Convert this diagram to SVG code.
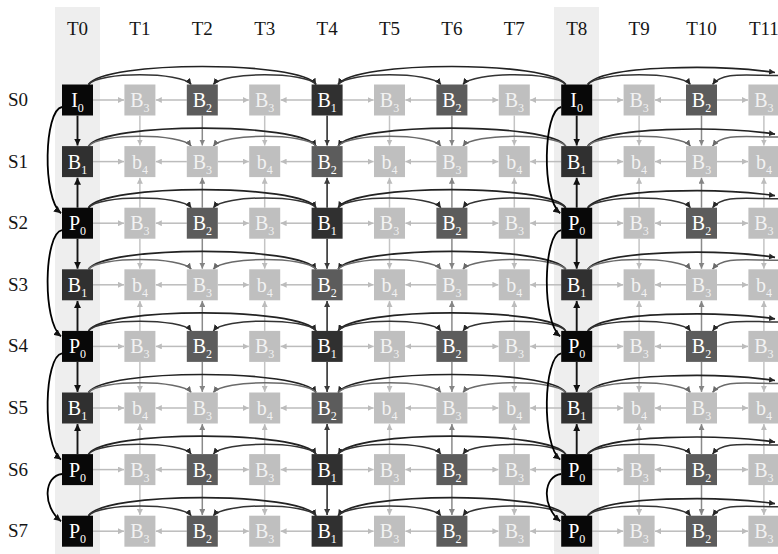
<svg xmlns="http://www.w3.org/2000/svg" width="778" height="554" viewBox="0 0 778 554">
<style>
.bg{fill:#eeeeee}
.lab{font-family:"Liberation Serif","Times New Roman",serif;font-size:19px;fill:#151515;text-anchor:middle}
.k rect{fill:#080808}.d rect{fill:#303030}.m rect{fill:#5c5c5c}.l rect{fill:#bfbfbf}
.nd text{font-family:"Liberation Serif","Times New Roman",serif;font-size:20px;fill:#fff;text-anchor:middle}
.nd tspan{font-size:12px}
.l text{fill:#f2f2f2}
path{fill:none}
.h{stroke:#bcbcbc;stroke-width:1.5;marker-end:url(#mL)}
.cl{stroke:#c4c4c4;stroke-width:1.5;marker-end:url(#mL)}
.cm{stroke:#8a8a8a;stroke-width:1.5;marker-end:url(#mM)}
.cd{stroke:#3c3c3c;stroke-width:1.7;marker-end:url(#mD)}
.ck{stroke:#151515;stroke-width:1.9;marker-end:url(#mK)}
.al{stroke:#222;stroke-width:1.7;marker-end:url(#mA)}
.as{stroke:#333;stroke-width:1.5;marker-end:url(#mA)}
.as2{stroke:#6a6a6a;stroke-width:1.5;marker-end:url(#mA2)}
.lc{stroke:#000;stroke-width:1.8;marker-end:url(#mK)}
</style>
<defs>
<marker id="mL" viewBox="0 0 6 6" refX="6" refY="3" markerWidth="6" markerHeight="6" markerUnits="userSpaceOnUse" orient="auto"><path d="M0,0L6,3L0,6z" style="fill:#bcbcbc"/></marker>
<marker id="mM" viewBox="0 0 6 6" refX="6" refY="3" markerWidth="6" markerHeight="6" markerUnits="userSpaceOnUse" orient="auto"><path d="M0,0L6,3L0,6z" style="fill:#858585"/></marker>
<marker id="mD" viewBox="0 0 6 6" refX="6" refY="3" markerWidth="6" markerHeight="6" markerUnits="userSpaceOnUse" orient="auto"><path d="M0,0L6,3L0,6z" style="fill:#3c3c3c"/></marker>
<marker id="mK" viewBox="0 0 6 6" refX="6" refY="3" markerWidth="7" markerHeight="7" markerUnits="userSpaceOnUse" orient="auto"><path d="M0,0L6,3L0,6z" style="fill:#111"/></marker>
<marker id="mA" viewBox="0 0 6 6" refX="6" refY="3" markerWidth="6" markerHeight="6" markerUnits="userSpaceOnUse" orient="auto"><path d="M0,0L6,3L0,6z" style="fill:#262626"/></marker>
<marker id="mA2" viewBox="0 0 6 6" refX="6" refY="3" markerWidth="6" markerHeight="6" markerUnits="userSpaceOnUse" orient="auto"><path d="M0,0L6,3L0,6z" style="fill:#6a6a6a"/></marker>
<g id="hrow">
<path class="h" d="M93,0H124"/><path class="h" d="M186.8,0H155.8"/><path class="h" d="M217.8,0H248.8"/><path class="h" d="M311.6,0H280.6"/><path class="h" d="M342.6,0H373.6"/><path class="h" d="M436.4,0H405.4"/><path class="h" d="M467.4,0H498.4"/><path class="h" d="M561.2,0H530.2"/><path class="h" d="M592.2,0H623.2"/><path class="h" d="M686,0H655"/><path class="h" d="M717,0H748"/>
</g>
<g id="vd">
<path class="cl" d="M139.9,0V30"/><path class="cm" d="M202.3,0V30"/><path class="cl" d="M264.7,0V30"/><path class="cd" d="M327.1,0V30"/><path class="cl" d="M389.5,0V30"/><path class="cm" d="M451.9,0V30"/><path class="cl" d="M514.3,0V30"/><path class="cl" d="M639.1,0V30"/><path class="cm" d="M701.5,0V30"/><path class="cl" d="M763.9,0V30"/>
</g>
<g id="vu">
<path class="cl" d="M139.9,30.6V0.6"/><path class="cm" d="M202.3,30.6V0.6"/><path class="cl" d="M264.7,30.6V0.6"/><path class="cd" d="M327.1,30.6V0.6"/><path class="cl" d="M389.5,30.6V0.6"/><path class="cm" d="M451.9,30.6V0.6"/><path class="cl" d="M514.3,30.6V0.6"/><path class="cl" d="M639.1,30.6V0.6"/><path class="cm" d="M701.5,30.6V0.6"/><path class="cl" d="M763.9,30.6V0.6"/>
</g>
<g id="vad"><path class="ck" d="M77.5,0V30"/><path class="ck" d="M576.7,0V30"/></g>
<g id="vau"><path class="ck" d="M77.5,30.6V0.6"/><path class="ck" d="M576.7,30.6V0.6"/></g>
<g id="arcL">
<path class="al" d="M88.5,0C103.5,-24 301.1,-24 316.1,0"/>
<path class="al" d="M565.7,0C550.7,-24 353.1,-24 338.1,0"/>
<path class="al" d="M587.7,0C602.7,-20 720,-20 775,-12"/>
</g>
<g id="arcE">
<use href="#arcL"/>
<path class="as" d="M88.5,0C98.5,-13 181.3,-13 191.3,0"/>
<path class="as" d="M316.1,0C306.1,-13 223.3,-13 213.3,0"/>
<path class="as" d="M338.1,0C348.1,-13 430.9,-13 440.9,0"/>
<path class="as" d="M565.7,0C555.7,-13 472.9,-13 462.9,0"/>
<path class="as" d="M587.7,0C597.7,-13 680.5,-13 690.5,0"/>
<path class="as" d="M778,-9C745,-9 722.5,-13 712.5,0"/>
</g>
<g id="arcO">
<use href="#arcL"/>
<path class="as2" d="M88.5,0C98.5,-13 181.3,-13 191.3,0"/>
<path class="as2" d="M316.1,0C306.1,-13 223.3,-13 213.3,0"/>
<path class="as2" d="M338.1,0C348.1,-13 430.9,-13 440.9,0"/>
<path class="as2" d="M565.7,0C555.7,-13 472.9,-13 462.9,0"/>
<path class="as2" d="M587.7,0C597.7,-13 680.5,-13 690.5,0"/>
<path class="as2" d="M778,-9C745,-9 722.5,-13 712.5,0"/>
</g>
<g id="lcv">
<path class="lc" d="M62,107C44,110 42,198.2 61,213.2"/>
<path class="lc" d="M62,230.2C44,233.2 42,321.4 61,336.4"/>
<path class="lc" d="M62,353.4C44,356.4 42,444.6 61,459.6"/>
<path class="lc" d="M62,474C44,476 42,506 61,521.2"/>
</g>
</defs>
<rect class="bg" x="55" y="7" width="45" height="547"/>
<rect class="bg" x="554" y="7" width="45" height="547"/>
<g id="labels">
<text class="lab" x="77.5" y="35">T0</text><text class="lab" x="139.9" y="35">T1</text><text class="lab" x="202.3" y="35">T2</text><text class="lab" x="264.7" y="35">T3</text><text class="lab" x="327.1" y="35">T4</text><text class="lab" x="389.5" y="35">T5</text><text class="lab" x="451.9" y="35">T6</text><text class="lab" x="514.3" y="35">T7</text><text class="lab" x="576.7" y="35">T8</text><text class="lab" x="639.1" y="35">T9</text><text class="lab" x="701.5" y="35">T10</text><text class="lab" x="763.9" y="35">T11</text>
<text class="lab" x="18" y="106">S0</text><text class="lab" x="18" y="167.6">S1</text><text class="lab" x="18" y="229.2">S2</text><text class="lab" x="18" y="290.8">S3</text><text class="lab" x="18" y="352.4">S4</text><text class="lab" x="18" y="414">S5</text><text class="lab" x="18" y="475.6">S6</text><text class="lab" x="18" y="537.2">S7</text>
</g>
<g id="connectors">
<use href="#hrow" transform="translate(0 100)"/><use href="#hrow" transform="translate(0 161.6)"/><use href="#hrow" transform="translate(0 223.2)"/><use href="#hrow" transform="translate(0 284.8)"/><use href="#hrow" transform="translate(0 346.4)"/><use href="#hrow" transform="translate(0 408)"/><use href="#hrow" transform="translate(0 469.6)"/><use href="#hrow" transform="translate(0 531.2)"/>
<use href="#vd" transform="translate(0 115.5)"/><use href="#vad" transform="translate(0 115.5)"/>
<use href="#vu" transform="translate(0 177.1)"/><use href="#vau" transform="translate(0 177.1)"/>
<use href="#vd" transform="translate(0 238.7)"/><use href="#vad" transform="translate(0 238.7)"/>
<use href="#vu" transform="translate(0 300.3)"/><use href="#vau" transform="translate(0 300.3)"/>
<use href="#vd" transform="translate(0 361.9)"/><use href="#vad" transform="translate(0 361.9)"/>
<use href="#vu" transform="translate(0 423.5)"/><use href="#vau" transform="translate(0 423.5)"/>
<use href="#vd" transform="translate(0 485.1)"/>
<use href="#arcE" transform="translate(0 84.5)"/><use href="#arcO" transform="translate(0 146.1)"/><use href="#arcE" transform="translate(0 207.7)"/><use href="#arcO" transform="translate(0 269.3)"/><use href="#arcE" transform="translate(0 330.9)"/><use href="#arcO" transform="translate(0 392.5)"/><use href="#arcE" transform="translate(0 454.1)"/><use href="#arcE" transform="translate(0 515.7)"/>
<use href="#lcv"/><use href="#lcv" transform="translate(499.2 0)"/>
</g>
<g id="s0t0" class="nd k" transform="translate(62 84.5)"><rect width="31" height="31"/><text x="15.5" y="22.5">I<tspan dy="5">0</tspan></text></g>
<g id="s0t1" class="nd l" transform="translate(124.4 84.5)"><rect width="31" height="31"/><text x="15.5" y="22.5">B<tspan dy="5">3</tspan></text></g>
<g id="s0t2" class="nd m" transform="translate(186.8 84.5)"><rect width="31" height="31"/><text x="15.5" y="22.5">B<tspan dy="5">2</tspan></text></g>
<g id="s0t3" class="nd l" transform="translate(249.2 84.5)"><rect width="31" height="31"/><text x="15.5" y="22.5">B<tspan dy="5">3</tspan></text></g>
<g id="s0t4" class="nd d" transform="translate(311.6 84.5)"><rect width="31" height="31"/><text x="15.5" y="22.5">B<tspan dy="5">1</tspan></text></g>
<g id="s0t5" class="nd l" transform="translate(374 84.5)"><rect width="31" height="31"/><text x="15.5" y="22.5">B<tspan dy="5">3</tspan></text></g>
<g id="s0t6" class="nd m" transform="translate(436.4 84.5)"><rect width="31" height="31"/><text x="15.5" y="22.5">B<tspan dy="5">2</tspan></text></g>
<g id="s0t7" class="nd l" transform="translate(498.8 84.5)"><rect width="31" height="31"/><text x="15.5" y="22.5">B<tspan dy="5">3</tspan></text></g>
<g id="s0t8" class="nd k" transform="translate(561.2 84.5)"><rect width="31" height="31"/><text x="15.5" y="22.5">I<tspan dy="5">0</tspan></text></g>
<g id="s0t9" class="nd l" transform="translate(623.6 84.5)"><rect width="31" height="31"/><text x="15.5" y="22.5">B<tspan dy="5">3</tspan></text></g>
<g id="s0t10" class="nd m" transform="translate(686 84.5)"><rect width="31" height="31"/><text x="15.5" y="22.5">B<tspan dy="5">2</tspan></text></g>
<g id="s0t11" class="nd l" transform="translate(748.4 84.5)"><rect width="31" height="31"/><text x="15.5" y="22.5">B<tspan dy="5">3</tspan></text></g>
<g id="s1t0" class="nd d" transform="translate(62 146.1)"><rect width="31" height="31"/><text x="15.5" y="22.5">B<tspan dy="5">1</tspan></text></g>
<g id="s1t1" class="nd l" transform="translate(124.4 146.1)"><rect width="31" height="31"/><text x="15.5" y="22.5">b<tspan dy="5">4</tspan></text></g>
<g id="s1t2" class="nd l" transform="translate(186.8 146.1)"><rect width="31" height="31"/><text x="15.5" y="22.5">B<tspan dy="5">3</tspan></text></g>
<g id="s1t3" class="nd l" transform="translate(249.2 146.1)"><rect width="31" height="31"/><text x="15.5" y="22.5">b<tspan dy="5">4</tspan></text></g>
<g id="s1t4" class="nd m" transform="translate(311.6 146.1)"><rect width="31" height="31"/><text x="15.5" y="22.5">B<tspan dy="5">2</tspan></text></g>
<g id="s1t5" class="nd l" transform="translate(374 146.1)"><rect width="31" height="31"/><text x="15.5" y="22.5">b<tspan dy="5">4</tspan></text></g>
<g id="s1t6" class="nd l" transform="translate(436.4 146.1)"><rect width="31" height="31"/><text x="15.5" y="22.5">B<tspan dy="5">3</tspan></text></g>
<g id="s1t7" class="nd l" transform="translate(498.8 146.1)"><rect width="31" height="31"/><text x="15.5" y="22.5">b<tspan dy="5">4</tspan></text></g>
<g id="s1t8" class="nd d" transform="translate(561.2 146.1)"><rect width="31" height="31"/><text x="15.5" y="22.5">B<tspan dy="5">1</tspan></text></g>
<g id="s1t9" class="nd l" transform="translate(623.6 146.1)"><rect width="31" height="31"/><text x="15.5" y="22.5">b<tspan dy="5">4</tspan></text></g>
<g id="s1t10" class="nd l" transform="translate(686 146.1)"><rect width="31" height="31"/><text x="15.5" y="22.5">B<tspan dy="5">3</tspan></text></g>
<g id="s1t11" class="nd l" transform="translate(748.4 146.1)"><rect width="31" height="31"/><text x="15.5" y="22.5">b<tspan dy="5">4</tspan></text></g>
<g id="s2t0" class="nd k" transform="translate(62 207.7)"><rect width="31" height="31"/><text x="15.5" y="22.5">P<tspan dy="5">0</tspan></text></g>
<g id="s2t1" class="nd l" transform="translate(124.4 207.7)"><rect width="31" height="31"/><text x="15.5" y="22.5">B<tspan dy="5">3</tspan></text></g>
<g id="s2t2" class="nd m" transform="translate(186.8 207.7)"><rect width="31" height="31"/><text x="15.5" y="22.5">B<tspan dy="5">2</tspan></text></g>
<g id="s2t3" class="nd l" transform="translate(249.2 207.7)"><rect width="31" height="31"/><text x="15.5" y="22.5">B<tspan dy="5">3</tspan></text></g>
<g id="s2t4" class="nd d" transform="translate(311.6 207.7)"><rect width="31" height="31"/><text x="15.5" y="22.5">B<tspan dy="5">1</tspan></text></g>
<g id="s2t5" class="nd l" transform="translate(374 207.7)"><rect width="31" height="31"/><text x="15.5" y="22.5">B<tspan dy="5">3</tspan></text></g>
<g id="s2t6" class="nd m" transform="translate(436.4 207.7)"><rect width="31" height="31"/><text x="15.5" y="22.5">B<tspan dy="5">2</tspan></text></g>
<g id="s2t7" class="nd l" transform="translate(498.8 207.7)"><rect width="31" height="31"/><text x="15.5" y="22.5">B<tspan dy="5">3</tspan></text></g>
<g id="s2t8" class="nd k" transform="translate(561.2 207.7)"><rect width="31" height="31"/><text x="15.5" y="22.5">P<tspan dy="5">0</tspan></text></g>
<g id="s2t9" class="nd l" transform="translate(623.6 207.7)"><rect width="31" height="31"/><text x="15.5" y="22.5">B<tspan dy="5">3</tspan></text></g>
<g id="s2t10" class="nd m" transform="translate(686 207.7)"><rect width="31" height="31"/><text x="15.5" y="22.5">B<tspan dy="5">2</tspan></text></g>
<g id="s2t11" class="nd l" transform="translate(748.4 207.7)"><rect width="31" height="31"/><text x="15.5" y="22.5">B<tspan dy="5">3</tspan></text></g>
<g id="s3t0" class="nd d" transform="translate(62 269.3)"><rect width="31" height="31"/><text x="15.5" y="22.5">B<tspan dy="5">1</tspan></text></g>
<g id="s3t1" class="nd l" transform="translate(124.4 269.3)"><rect width="31" height="31"/><text x="15.5" y="22.5">b<tspan dy="5">4</tspan></text></g>
<g id="s3t2" class="nd l" transform="translate(186.8 269.3)"><rect width="31" height="31"/><text x="15.5" y="22.5">B<tspan dy="5">3</tspan></text></g>
<g id="s3t3" class="nd l" transform="translate(249.2 269.3)"><rect width="31" height="31"/><text x="15.5" y="22.5">b<tspan dy="5">4</tspan></text></g>
<g id="s3t4" class="nd m" transform="translate(311.6 269.3)"><rect width="31" height="31"/><text x="15.5" y="22.5">B<tspan dy="5">2</tspan></text></g>
<g id="s3t5" class="nd l" transform="translate(374 269.3)"><rect width="31" height="31"/><text x="15.5" y="22.5">b<tspan dy="5">4</tspan></text></g>
<g id="s3t6" class="nd l" transform="translate(436.4 269.3)"><rect width="31" height="31"/><text x="15.5" y="22.5">B<tspan dy="5">3</tspan></text></g>
<g id="s3t7" class="nd l" transform="translate(498.8 269.3)"><rect width="31" height="31"/><text x="15.5" y="22.5">b<tspan dy="5">4</tspan></text></g>
<g id="s3t8" class="nd d" transform="translate(561.2 269.3)"><rect width="31" height="31"/><text x="15.5" y="22.5">B<tspan dy="5">1</tspan></text></g>
<g id="s3t9" class="nd l" transform="translate(623.6 269.3)"><rect width="31" height="31"/><text x="15.5" y="22.5">b<tspan dy="5">4</tspan></text></g>
<g id="s3t10" class="nd l" transform="translate(686 269.3)"><rect width="31" height="31"/><text x="15.5" y="22.5">B<tspan dy="5">3</tspan></text></g>
<g id="s3t11" class="nd l" transform="translate(748.4 269.3)"><rect width="31" height="31"/><text x="15.5" y="22.5">b<tspan dy="5">4</tspan></text></g>
<g id="s4t0" class="nd k" transform="translate(62 330.9)"><rect width="31" height="31"/><text x="15.5" y="22.5">P<tspan dy="5">0</tspan></text></g>
<g id="s4t1" class="nd l" transform="translate(124.4 330.9)"><rect width="31" height="31"/><text x="15.5" y="22.5">B<tspan dy="5">3</tspan></text></g>
<g id="s4t2" class="nd m" transform="translate(186.8 330.9)"><rect width="31" height="31"/><text x="15.5" y="22.5">B<tspan dy="5">2</tspan></text></g>
<g id="s4t3" class="nd l" transform="translate(249.2 330.9)"><rect width="31" height="31"/><text x="15.5" y="22.5">B<tspan dy="5">3</tspan></text></g>
<g id="s4t4" class="nd d" transform="translate(311.6 330.9)"><rect width="31" height="31"/><text x="15.5" y="22.5">B<tspan dy="5">1</tspan></text></g>
<g id="s4t5" class="nd l" transform="translate(374 330.9)"><rect width="31" height="31"/><text x="15.5" y="22.5">B<tspan dy="5">3</tspan></text></g>
<g id="s4t6" class="nd m" transform="translate(436.4 330.9)"><rect width="31" height="31"/><text x="15.5" y="22.5">B<tspan dy="5">2</tspan></text></g>
<g id="s4t7" class="nd l" transform="translate(498.8 330.9)"><rect width="31" height="31"/><text x="15.5" y="22.5">B<tspan dy="5">3</tspan></text></g>
<g id="s4t8" class="nd k" transform="translate(561.2 330.9)"><rect width="31" height="31"/><text x="15.5" y="22.5">P<tspan dy="5">0</tspan></text></g>
<g id="s4t9" class="nd l" transform="translate(623.6 330.9)"><rect width="31" height="31"/><text x="15.5" y="22.5">B<tspan dy="5">3</tspan></text></g>
<g id="s4t10" class="nd m" transform="translate(686 330.9)"><rect width="31" height="31"/><text x="15.5" y="22.5">B<tspan dy="5">2</tspan></text></g>
<g id="s4t11" class="nd l" transform="translate(748.4 330.9)"><rect width="31" height="31"/><text x="15.5" y="22.5">B<tspan dy="5">3</tspan></text></g>
<g id="s5t0" class="nd d" transform="translate(62 392.5)"><rect width="31" height="31"/><text x="15.5" y="22.5">B<tspan dy="5">1</tspan></text></g>
<g id="s5t1" class="nd l" transform="translate(124.4 392.5)"><rect width="31" height="31"/><text x="15.5" y="22.5">b<tspan dy="5">4</tspan></text></g>
<g id="s5t2" class="nd l" transform="translate(186.8 392.5)"><rect width="31" height="31"/><text x="15.5" y="22.5">B<tspan dy="5">3</tspan></text></g>
<g id="s5t3" class="nd l" transform="translate(249.2 392.5)"><rect width="31" height="31"/><text x="15.5" y="22.5">b<tspan dy="5">4</tspan></text></g>
<g id="s5t4" class="nd m" transform="translate(311.6 392.5)"><rect width="31" height="31"/><text x="15.5" y="22.5">B<tspan dy="5">2</tspan></text></g>
<g id="s5t5" class="nd l" transform="translate(374 392.5)"><rect width="31" height="31"/><text x="15.5" y="22.5">b<tspan dy="5">4</tspan></text></g>
<g id="s5t6" class="nd l" transform="translate(436.4 392.5)"><rect width="31" height="31"/><text x="15.5" y="22.5">B<tspan dy="5">3</tspan></text></g>
<g id="s5t7" class="nd l" transform="translate(498.8 392.5)"><rect width="31" height="31"/><text x="15.5" y="22.5">b<tspan dy="5">4</tspan></text></g>
<g id="s5t8" class="nd d" transform="translate(561.2 392.5)"><rect width="31" height="31"/><text x="15.5" y="22.5">B<tspan dy="5">1</tspan></text></g>
<g id="s5t9" class="nd l" transform="translate(623.6 392.5)"><rect width="31" height="31"/><text x="15.5" y="22.5">b<tspan dy="5">4</tspan></text></g>
<g id="s5t10" class="nd l" transform="translate(686 392.5)"><rect width="31" height="31"/><text x="15.5" y="22.5">B<tspan dy="5">3</tspan></text></g>
<g id="s5t11" class="nd l" transform="translate(748.4 392.5)"><rect width="31" height="31"/><text x="15.5" y="22.5">b<tspan dy="5">4</tspan></text></g>
<g id="s6t0" class="nd k" transform="translate(62 454.1)"><rect width="31" height="31"/><text x="15.5" y="22.5">P<tspan dy="5">0</tspan></text></g>
<g id="s6t1" class="nd l" transform="translate(124.4 454.1)"><rect width="31" height="31"/><text x="15.5" y="22.5">B<tspan dy="5">3</tspan></text></g>
<g id="s6t2" class="nd m" transform="translate(186.8 454.1)"><rect width="31" height="31"/><text x="15.5" y="22.5">B<tspan dy="5">2</tspan></text></g>
<g id="s6t3" class="nd l" transform="translate(249.2 454.1)"><rect width="31" height="31"/><text x="15.5" y="22.5">B<tspan dy="5">3</tspan></text></g>
<g id="s6t4" class="nd d" transform="translate(311.6 454.1)"><rect width="31" height="31"/><text x="15.5" y="22.5">B<tspan dy="5">1</tspan></text></g>
<g id="s6t5" class="nd l" transform="translate(374 454.1)"><rect width="31" height="31"/><text x="15.5" y="22.5">B<tspan dy="5">3</tspan></text></g>
<g id="s6t6" class="nd m" transform="translate(436.4 454.1)"><rect width="31" height="31"/><text x="15.5" y="22.5">B<tspan dy="5">2</tspan></text></g>
<g id="s6t7" class="nd l" transform="translate(498.8 454.1)"><rect width="31" height="31"/><text x="15.5" y="22.5">B<tspan dy="5">3</tspan></text></g>
<g id="s6t8" class="nd k" transform="translate(561.2 454.1)"><rect width="31" height="31"/><text x="15.5" y="22.5">P<tspan dy="5">0</tspan></text></g>
<g id="s6t9" class="nd l" transform="translate(623.6 454.1)"><rect width="31" height="31"/><text x="15.5" y="22.5">B<tspan dy="5">3</tspan></text></g>
<g id="s6t10" class="nd m" transform="translate(686 454.1)"><rect width="31" height="31"/><text x="15.5" y="22.5">B<tspan dy="5">2</tspan></text></g>
<g id="s6t11" class="nd l" transform="translate(748.4 454.1)"><rect width="31" height="31"/><text x="15.5" y="22.5">B<tspan dy="5">3</tspan></text></g>
<g id="s7t0" class="nd k" transform="translate(62 515.7)"><rect width="31" height="31"/><text x="15.5" y="22.5">P<tspan dy="5">0</tspan></text></g>
<g id="s7t1" class="nd l" transform="translate(124.4 515.7)"><rect width="31" height="31"/><text x="15.5" y="22.5">B<tspan dy="5">3</tspan></text></g>
<g id="s7t2" class="nd m" transform="translate(186.8 515.7)"><rect width="31" height="31"/><text x="15.5" y="22.5">B<tspan dy="5">2</tspan></text></g>
<g id="s7t3" class="nd l" transform="translate(249.2 515.7)"><rect width="31" height="31"/><text x="15.5" y="22.5">B<tspan dy="5">3</tspan></text></g>
<g id="s7t4" class="nd d" transform="translate(311.6 515.7)"><rect width="31" height="31"/><text x="15.5" y="22.5">B<tspan dy="5">1</tspan></text></g>
<g id="s7t5" class="nd l" transform="translate(374 515.7)"><rect width="31" height="31"/><text x="15.5" y="22.5">B<tspan dy="5">3</tspan></text></g>
<g id="s7t6" class="nd m" transform="translate(436.4 515.7)"><rect width="31" height="31"/><text x="15.5" y="22.5">B<tspan dy="5">2</tspan></text></g>
<g id="s7t7" class="nd l" transform="translate(498.8 515.7)"><rect width="31" height="31"/><text x="15.5" y="22.5">B<tspan dy="5">3</tspan></text></g>
<g id="s7t8" class="nd k" transform="translate(561.2 515.7)"><rect width="31" height="31"/><text x="15.5" y="22.5">P<tspan dy="5">0</tspan></text></g>
<g id="s7t9" class="nd l" transform="translate(623.6 515.7)"><rect width="31" height="31"/><text x="15.5" y="22.5">B<tspan dy="5">3</tspan></text></g>
<g id="s7t10" class="nd m" transform="translate(686 515.7)"><rect width="31" height="31"/><text x="15.5" y="22.5">B<tspan dy="5">2</tspan></text></g>
<g id="s7t11" class="nd l" transform="translate(748.4 515.7)"><rect width="31" height="31"/><text x="15.5" y="22.5">B<tspan dy="5">3</tspan></text></g>
</svg>
